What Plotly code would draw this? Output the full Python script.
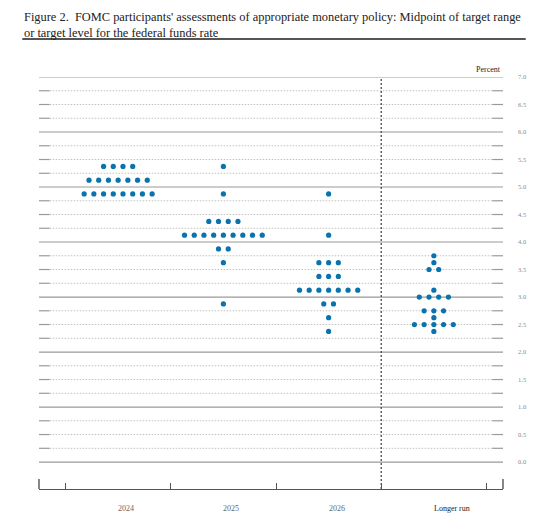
import plotly.graph_objects as go

# dot plot data: midpoint (percent) and number of participants at that midpoint
horizons = ["2024", "2025", "2026", "Longer run"]

rates_2024 = [5.375, 5.125, 4.875]
counts_2024 = [4, 7, 8]

rates_2025 = [5.375, 4.875, 4.375, 4.125, 3.875, 3.625, 2.875]
counts_2025 = [1, 1, 4, 9, 2, 1, 1]

rates_2026 = [4.875, 4.125, 3.625, 3.375, 3.125, 2.875, 2.625, 2.375]
counts_2026 = [1, 1, 3, 3, 7, 2, 1, 1]

rates_lr = [3.75, 3.625, 3.5, 3.125, 3.0, 2.75, 2.625, 2.5, 2.375]
counts_lr = [1, 1, 2, 1, 4, 3, 1, 5, 1]

y_ticks = [i * 0.5 for i in range(15)]

TITLE = ("Figure 2.\u00a0\u00a0FOMC participants' assessments of appropriate monetary policy: "
         "Midpoint of target range<br>or target level for the federal funds rate")

SERIF = "Liberation Serif, DejaVu Serif, serif"
DOT_GAP = 0.0923   # horizontal spacing between dots, in category units
YMIN, YMAX = -0.49, 7.0


def spread(idx, rates, counts):
    xs, ys = [], []
    for r, n in zip(rates, counts):
        for j in range(n):
            xs.append(idx + (j - (n - 1) / 2) * DOT_GAP)
            ys.append(r)
    return xs, ys


all_x, all_y = [], []
for i, (rates, counts) in enumerate([(rates_2024, counts_2024), (rates_2025, counts_2025),
                                     (rates_2026, counts_2026), (rates_lr, counts_lr)]):
    xs, ys = spread(i, rates, counts)
    all_x += xs
    all_y += ys

fig = go.Figure()
fig.add_trace(go.Scatter(x=all_x, y=all_y, mode="markers",
                         marker=dict(size=5.2, color="#0a72ad", line=dict(width=0)),
                         hoverinfo="skip", showlegend=False))

shapes = []
stub = 0.023
for k in range(29):
    v = k * 0.25
    if k % 4 == 0:
        shapes.append(dict(type="line", xref="paper", yref="y", x0=0, x1=1, y0=v, y1=v,
                           line=dict(color="#9a9a9a", width=1.2), layer="below"))
    else:
        shapes.append(dict(type="line", xref="paper", yref="y", x0=stub, x1=1 - stub, y0=v, y1=v,
                           line=dict(color="#c0c0c0", width=1, dash="1.5px,1.5px"), layer="below"))
        for a, b in [(0, stub), (1 - stub, 1)]:
            shapes.append(dict(type="line", xref="paper", yref="y", x0=a, x1=b, y0=v, y1=v,
                               line=dict(color="#9a9a9a", width=1.2), layer="below"))

# separator before the longer run
shapes.append(dict(type="line", xref="x", yref="y", x0=2.5, x1=2.5, y0=YMIN, y1=YMAX + 0.03,
                   line=dict(color="#555555", width=1.4, dash="2px,2px")))
# tall end ticks on the bottom axis
for px in [0, 1]:
    shapes.append(dict(type="line", xref="paper", yref="y", x0=px, x1=px, y0=YMIN, y1=YMIN + 0.18,
                       line=dict(color="#555555", width=1.4)))
# rule under the title
shapes.append(dict(type="line", xref="paper", yref="paper", x0=-0.036, x1=1.049, y0=1.0922, y1=1.0922,
                   line=dict(color="#555555", width=2)))

annotations = [
    dict(text=TITLE, xref="paper", yref="paper", x=0, y=1, xshift=-17, yshift=69,
         xanchor="left", yanchor="top", align="left", showarrow=False,
         font=dict(family=SERIF, size=12.4, color="#222222")),
    dict(text="Percent", xref="paper", yref="paper", x=1, y=1, yshift=8,
         xanchor="right", yanchor="middle", showarrow=False,
         font=dict(family=SERIF, size=8, color="#222222")),
]
for i, h in enumerate(horizons):
    annotations.append(dict(text=h, xref="x", yref="paper", x=i, y=0, yshift=-19, xshift=-2,
                            xanchor="left", yanchor="middle", showarrow=False,
                            font=dict(family=SERIF, size=8,
                                      color="#222222" if h == "Longer run" else "#666666")))

fig.update_layout(
    width=554, height=532,
    margin=dict(l=39, r=51, t=77, b=43),
    paper_bgcolor="white", plot_bgcolor="white",
    shapes=shapes, annotations=annotations,
    xaxis=dict(range=[-0.752, 3.657], showgrid=False, zeroline=False,
               showline=True, linecolor="#555555", linewidth=1.4,
               ticks="inside", ticklen=6, tickwidth=1.4, tickcolor="#555555",
               tickvals=[-0.5, 0.5, 1.5, 2.5, 3.5], showticklabels=False),
    yaxis=dict(range=[YMIN, YMAX], side="right", showgrid=False, zeroline=False,
               showline=False, ticks="", tickvals=y_ticks,
               ticktext=["%.1f" % v for v in y_ticks], ticklabelstandoff=14,
               tickfont=dict(family=SERIF, size=6.5, color="#8a8a8a")),
)

# page body has a default margin; drop it so the figure fills the window
fig.write_html("out.html", config={"displayModeBar": False},
               post_script="document.body.style.margin = '0';")
